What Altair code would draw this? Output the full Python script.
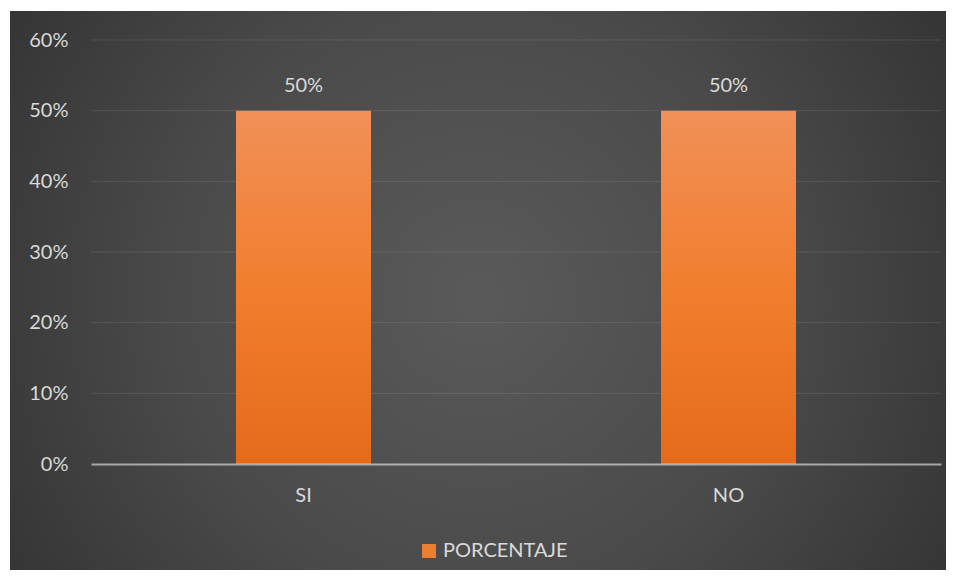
import altair as alt
import pandas as pd

categories = ["SI", "NO"]
values = [0.50, 0.50]
series_name = "PORCENTAJE"
y_ticks = [0, 0.1, 0.2, 0.3, 0.4, 0.5, 0.6]

df = pd.DataFrame({"cat": categories, "val": values, "serie": [series_name] * len(categories)})
grid_df = pd.DataFrame({"tick": y_ticks[1:]})
bg_df = pd.DataFrame({"k": [0]})

FONT = "Lato"
FS = 20
TXT = "#d9d9d9"
W, H = 850, 424

bar_grad = alt.LinearGradient(
    gradient="linear",
    stops=[
        alt.GradientStop(color="#f19058", offset=0),
        alt.GradientStop(color="#f17e2e", offset=0.5),
        alt.GradientStop(color="#e56b1a", offset=1),
    ],
    x1=0, x2=0, y1=0, y2=1,
)

bg_grad = alt.RadialGradient(
    gradient="radial",
    stops=[
        alt.GradientStop(color="#5a5a5a", offset=0),
        alt.GradientStop(color="#4a4a4a", offset=0.45),
        alt.GradientStop(color="#2a2a2a", offset=1),
    ],
    x1=0.5, y1=0.5, r1=0, x2=0.5, y2=0.5, r2=0.72,
)

y_scale = alt.Scale(domain=[0, 0.6], nice=False)

background = alt.Chart(bg_df).mark_rect(fill=bg_grad).encode(
    x=alt.value(-81), x2=alt.value(855), y=alt.value(-29), y2=alt.value(542)
)

grid = alt.Chart(grid_df).mark_rule(color="#ffffff", opacity=0.1, strokeWidth=1).encode(
    y=alt.Y("tick:Q", scale=y_scale), x=alt.value(0), x2=alt.value(W)
)

x_enc = alt.X(
    "cat:N",
    sort=categories,
    title=None,
    scale=alt.Scale(paddingInner=0, paddingOuter=0),
    axis=alt.Axis(
        labelAngle=0, ticks=False, domainColor="#ffffff", domainOpacity=0.55,
        domainWidth=2, labelPadding=31, labelBaseline="middle",
        labelFont=FONT, labelFontSize=FS, labelColor=TXT, zindex=1, grid=False,
    ),
)
y_enc = alt.Y(
    "val:Q",
    title=None,
    scale=y_scale,
    axis=alt.Axis(
        values=y_ticks, format=".0%", ticks=False, domain=False, labelPadding=23,
        labelFont=FONT, labelFontSize=FS, labelColor=TXT, grid=False, zindex=1,
    ),
)

bars = alt.Chart(df).mark_bar(fill=bar_grad, size=135).encode(x=x_enc, y=y_enc)

labels = alt.Chart(df).mark_text(
    dy=-25, baseline="middle", font=FONT, fontSize=FS, color=TXT
).encode(x=alt.X("cat:N", sort=categories), y="val:Q", text=alt.Text("val:Q", format=".0%"))

legend_layer = alt.Chart(df).transform_filter("false").mark_square().encode(
    color=alt.Color(
        "serie:N",
        scale=alt.Scale(domain=[series_name], range=["#ED7D31"]),
        legend=alt.Legend(
            title=None, orient="none", legendX=328, legendY=501, padding=0,
            symbolType="square", symbolSize=196, symbolStrokeWidth=0, symbolOpacity=1,
            symbolFillColor="#ED7D31", labelOffset=4,
            labelFont=FONT, labelFontSize=FS, labelColor=TXT,
        ),
    )
)

chart = (
    alt.layer(background, grid, bars, labels, legend_layer)
    .properties(
        width=W, height=H,
        autosize=alt.AutoSizeParams(type="none"),
        padding={"left": 83, "top": 32, "right": 5, "bottom": 106},
    )
    .configure_view(stroke=None)
)

chart.save("out.html", embed_options={"renderer": "svg", "actions": False})
